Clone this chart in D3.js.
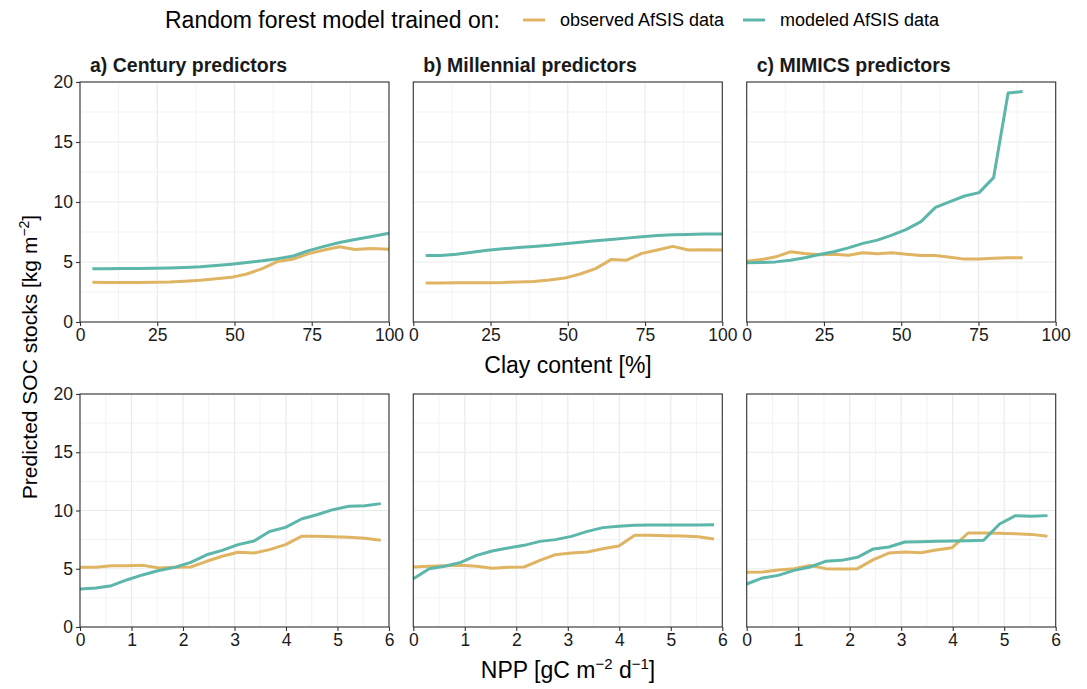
<!DOCTYPE html>
<html lang="en">
<head>
<meta charset="utf-8">
<title>SOC partial dependence</title>
<script src="https://cdn.jsdelivr.net/npm/d3@7/dist/d3.min.js"></script>
<style>
  body { margin: 0; background: #fff; }
  text { font-family: "Liberation Sans", Arial, Helvetica, sans-serif; }
</style>
</head>
<body></body>
<script>

//****************************************************************************************************************************//
// Data

var seriesNames = ["observed AfSIS data", "modeled AfSIS data"];
var seriesColors = ["#dfb462", "#5cb6a9"];
var panelTitles = ["a) Century predictors", "b) Millennial predictors", "c) MIMICS predictors"];

// clay content grid
var clayA = [4, 9, 14, 19, 24, 29, 34, 39, 44, 49, 54, 59, 64, 69, 74, 79, 84, 89, 94, 100];
var clayC = [0, 4.7, 9.4, 14.1, 18.8, 23.5, 28.2, 32.9, 37.6, 42.3, 47, 51.7, 56.4, 61.1, 65.8, 70.5, 75.2, 79.9, 84.6, 89.3];

var clayObsA = [3.31, 3.3, 3.3, 3.3, 3.31, 3.33, 3.4, 3.47, 3.6, 3.72, 4.0, 4.45, 5.05, 5.25, 5.7, 6.0, 6.27, 6.05, 6.12, 6.07];
var clayModA = [4.43, 4.44, 4.45, 4.46, 4.47, 4.5, 4.54, 4.6, 4.7, 4.82, 4.95, 5.1, 5.28, 5.5, 5.95, 6.3, 6.62, 6.88, 7.1, 7.4];

var clayObsB = [3.26, 3.26, 3.27, 3.27, 3.28, 3.29, 3.33, 3.38, 3.5, 3.66, 4.0, 4.45, 5.2, 5.15, 5.72, 6.0, 6.3, 6.0, 6.02, 6.0];
var clayModB = [5.54, 5.55, 5.65, 5.82, 5.98, 6.1, 6.2, 6.3, 6.4, 6.53, 6.65, 6.77, 6.88, 6.99, 7.1, 7.2, 7.27, 7.3, 7.33, 7.33];

var clayObsC = [5.07, 5.2, 5.43, 5.85, 5.71, 5.6, 5.65, 5.57, 5.77, 5.68, 5.77, 5.65, 5.54, 5.54, 5.4, 5.24, 5.26, 5.32, 5.35, 5.35];
var clayModC = [4.93, 4.96, 5.01, 5.15, 5.35, 5.62, 5.85, 6.18, 6.55, 6.82, 7.24, 7.72, 8.36, 9.55, 10.03, 10.5, 10.78, 12.03, 19.08, 19.2];

// NPP grid
var npp = [0, 0.31, 0.61, 0.92, 1.23, 1.53, 1.84, 2.15, 2.46, 2.76, 3.07, 3.38, 3.68, 3.99, 4.3, 4.6, 4.91, 5.22, 5.53, 5.84];

var nppObsA = [5.12, 5.12, 5.26, 5.26, 5.29, 5.06, 5.12, 5.15, 5.64, 6.07, 6.41, 6.35, 6.64, 7.07, 7.78, 7.78, 7.75, 7.7, 7.61, 7.44];
var nppModA = [3.26, 3.35, 3.55, 4.06, 4.49, 4.85, 5.12, 5.55, 6.2, 6.58, 7.07, 7.38, 8.2, 8.55, 9.27, 9.64, 10.07, 10.36, 10.41, 10.59];

var nppObsB = [5.15, 5.21, 5.26, 5.29, 5.21, 5.04, 5.12, 5.15, 5.72, 6.21, 6.35, 6.44, 6.72, 6.95, 7.87, 7.87, 7.84, 7.81, 7.75, 7.55];
var nppModB = [4.15, 5.0, 5.21, 5.55, 6.15, 6.52, 6.78, 7.01, 7.35, 7.5, 7.78, 8.21, 8.53, 8.64, 8.73, 8.75, 8.76, 8.76, 8.76, 8.78];

var nppObsC = [4.69, 4.72, 4.89, 5.01, 5.29, 5.01, 4.98, 5.01, 5.78, 6.35, 6.44, 6.38, 6.61, 6.81, 8.07, 8.07, 8.04, 8.01, 7.95, 7.78];
var nppModC = [3.69, 4.21, 4.43, 4.86, 5.15, 5.64, 5.72, 5.98, 6.7, 6.87, 7.3, 7.32, 7.35, 7.38, 7.41, 7.44, 8.84, 9.56, 9.5, 9.56];

var clayTicks = [0, 25, 50, 75, 100];
var nppTicks = [0, 1, 2, 3, 4, 5, 6];
var socTicks = [0, 5, 10, 15, 20];

//****************************************************************************************************************************//
// Layout

var width = 1087,
    height = 689;

var colLeft = [80, 413.3, 746.7];
var panelWidth = 309;
var rows = [
    { top: 82, bottom: 322, xDomain: [0, 100], ticks: clayTicks, minor: 12.5, x: [clayA, clayA, clayC],
      ys: [[clayObsA, clayModA], [clayObsB, clayModB], [clayObsC, clayModC]] },
    { top: 394, bottom: 627, xDomain: [0, 6], ticks: nppTicks, minor: 0.5, x: [npp, npp, npp],
      ys: [[nppObsA, nppModA], [nppObsB, nppModB], [nppObsC, nppModC]] }
];

var canvas = d3.select("body")
            .append("svg")
            .attr("width", width)
            .attr("height", height);

canvas.append("rect")
        .attr("width", width)
        .attr("height", height)
        .attr("fill", "white");

//****************************************************************************************************************************//
// Panels

rows.forEach(function(row, r){
    var yScale = d3.scaleLinear().domain([0, 20]).range([row.bottom, row.top]);

    colLeft.forEach(function(left, c){
        var xScale = d3.scaleLinear().domain(row.xDomain).range([left, left + panelWidth]);
        var g = canvas.append("g");

        // minor grid
        var xMinor = d3.range(row.xDomain[0] + row.minor, row.xDomain[1], row.minor * 2);
        g.selectAll(".xminor").data(xMinor).enter().append("line")
            .attr("x1", d => xScale(d)).attr("x2", d => xScale(d))
            .attr("y1", row.top).attr("y2", row.bottom)
            .attr("stroke", "#ebebeb").attr("stroke-width", 0.6);
        g.selectAll(".yminor").data([2.5, 7.5, 12.5, 17.5]).enter().append("line")
            .attr("x1", left).attr("x2", left + panelWidth)
            .attr("y1", d => yScale(d)).attr("y2", d => yScale(d))
            .attr("stroke", "#ebebeb").attr("stroke-width", 0.6);

        // major grid
        g.selectAll(".xmajor").data(row.ticks).enter().append("line")
            .attr("x1", d => xScale(d)).attr("x2", d => xScale(d))
            .attr("y1", row.top).attr("y2", row.bottom)
            .attr("stroke", "#ebebeb").attr("stroke-width", 1.2);
        g.selectAll(".ymajor").data(socTicks).enter().append("line")
            .attr("x1", left).attr("x2", left + panelWidth)
            .attr("y1", d => yScale(d)).attr("y2", d => yScale(d))
            .attr("stroke", "#ebebeb").attr("stroke-width", 1.2);

        // lines
        row.ys[c].forEach(function(vals, s){
            var xs = row.x[c];
            var pts = vals.map(function(v, i){ return [xs[i], v]; });
            g.append("path")
                .datum(pts)
                .attr("fill", "none")
                .attr("stroke", seriesColors[s])
                .attr("stroke-width", 3)
                .attr("stroke-linejoin", "round")
                .attr("d", d3.line().x(d => xScale(d[0])).y(d => yScale(d[1])));
        });

        // border
        g.append("rect")
            .attr("x", left).attr("y", row.top)
            .attr("width", panelWidth).attr("height", row.bottom - row.top)
            .attr("fill", "none").attr("stroke", "#333").attr("stroke-width", 1.1);

        // x axis
        var xAxis = g.append("g")
            .attr("transform", "translate(0," + row.bottom + ")")
            .call(d3.axisBottom(xScale).tickValues(row.ticks).tickSize(4).tickPadding(3).tickFormat(d3.format("d")));
        xAxis.select(".domain").remove();
        xAxis.selectAll("line").attr("stroke", "#333").attr("stroke-width", 1.1);
        xAxis.selectAll("text").attr("fill", "#1a1a1a").style("font-size", "17.5px")
            .style("font-family", "'Liberation Sans', Arial, sans-serif");

        // y axis (first column only)
        if (c === 0) {
            var yAxis = g.append("g")
                .attr("transform", "translate(" + left + ",0)")
                .call(d3.axisLeft(yScale).tickValues(socTicks).tickSize(4).tickPadding(3));
            yAxis.select(".domain").remove();
            yAxis.selectAll("line").attr("stroke", "#333").attr("stroke-width", 1.1);
            yAxis.selectAll("text").attr("fill", "#1a1a1a").style("font-size", "17.5px")
                .style("font-family", "'Liberation Sans', Arial, sans-serif");
        }

        // panel titles on the top row
        if (r === 0) {
            canvas.append("text")
                .attr("x", left + 10)
                .attr("y", 72)
                .style("font-size", "19.5px")
                .style("font-weight", "bold")
                .attr("fill", "#1a1a1a")
                .text(panelTitles[c]);
        }
    });
});

//****************************************************************************************************************************//
// Axis titles

canvas.append("text")
    .attr("x", 568).attr("y", 373)
    .attr("text-anchor", "middle")
    .style("font-size", "23px")
    .text("Clay content [%]");

var nppTitle = canvas.append("text")
    .attr("x", 568).attr("y", 678)
    .attr("text-anchor", "middle")
    .style("font-size", "23px");
nppTitle.append("tspan").text("NPP [gC m");
nppTitle.append("tspan").attr("dy", -9).style("font-size", "15px").text("\u22122");
nppTitle.append("tspan").attr("dy", 9).text(" d");
nppTitle.append("tspan").attr("dy", -9).style("font-size", "15px").text("\u22121");
nppTitle.append("tspan").attr("dy", 9).text("]");

var yTitle = canvas.append("text")
    .attr("transform", "translate(37,357) rotate(-90)")
    .attr("text-anchor", "middle")
    .style("font-size", "21px");
yTitle.append("tspan").text("Predicted SOC stocks [kg m");
yTitle.append("tspan").attr("dy", -8).style("font-size", "14px").text("\u22122");
yTitle.append("tspan").attr("dy", 8).text("]");

//****************************************************************************************************************************//
// Legend

var legend = canvas.append("g");
legend.append("text")
    .attr("x", 165).attr("y", 28)
    .style("font-size", "23px")
    .text("Random forest model trained on:");

var legendKeys = [523, 743];
var legendLabels = [560, 780];
seriesNames.forEach(function(name, i){
    legend.append("line")
        .attr("x1", legendKeys[i]).attr("x2", legendKeys[i] + 22)
        .attr("y1", 20).attr("y2", 20)
        .attr("stroke", seriesColors[i]).attr("stroke-width", 3);
    legend.append("text")
        .attr("x", legendLabels[i]).attr("y", 26)
        .style("font-size", "18px")
        .text(name);
});

</script>
</html>
